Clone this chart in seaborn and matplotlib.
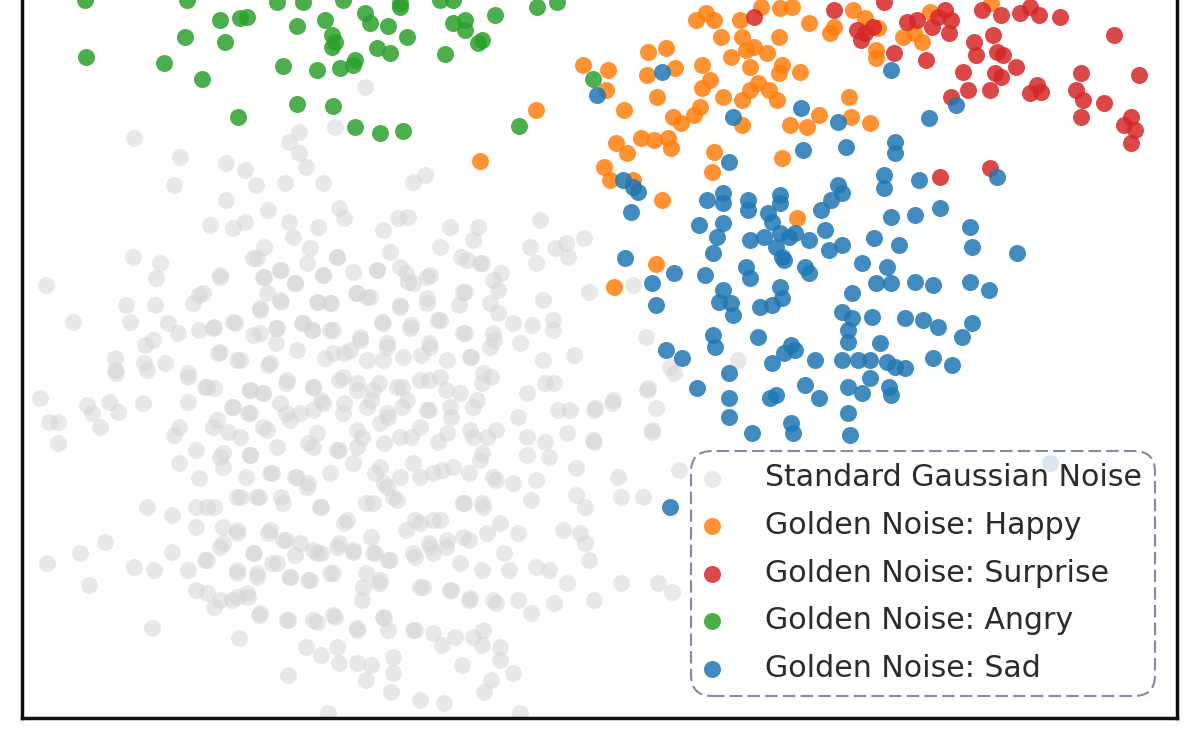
import matplotlib
matplotlib.use("Agg")
import matplotlib.pyplot as plt
import seaborn as sns

sns.set_theme(style="white")
plt.rcParams['font.family'] = ['DejaVu Sans']

# ---- embedding coordinates (screen-like units, y grows downward) ----
gauss_x = [365,134,299,289,299,335,180,226,245,306,174,256,285,323,413,425,226,268,339,344,210,233,245,289,383,398,408,450,478,540,
           293,318,264,310,440,473,530,555,566,584,133,160,253,337,390,461,482,536,568,46,156,220,264,281,323,377,406,427,501,589,
           295,356,367,465,498,543,413,126,155,193,199,260,281,318,331,400,427,459,130,73,168,178,199,214,235,276,302,312,333,383,
           411,438,465,498,513,532,553,553,494,145,153,218,260,276,360,387,429,520,115,144,165,237,268,325,344,383,421,471,543,574,
           115,188,633,646,738,670,648,613,595,570,652,593,
           116,147,188,205,214,250,263,286,313,339,357,379,402,429,446,482,491,527,545,554,647,656,652,674,40,49,58,58,87,92,
           100,109,118,143,188,179,174,217,228,232,248,263,286,313,321,344,371,388,402,429,451,473,496,518,558,594,612,527,545,567,
           594,196,223,250,277,308,339,362,384,411,438,473,482,527,549,179,199,223,246,272,295,308,330,353,375,384,420,442,469,496,
           513,536,576,618,679,147,172,196,214,241,259,281,321,344,366,393,415,433,464,482,500,518,531,576,585,621,643,196,237,268,
           286,313,339,371,406,429,446,469,563,580,585,105,80,47,172,205,223,254,272,295,321,353,375,388,415,433,460,482,504,509,
           536,549,589,134,154,188,237,89,257,290,308,333,366,379,420,451,469,496,518,531,554,567,594,621,658,672,196,214,232,248,
           259,288,317,335,357,384,388,415,362,152,239,306,321,337,339,357,371,393,393,442,455,473,482,500,500,462,288,366,391,420,
           444,484,491,513,328,520,
           220,257,263,280,295,307,323,337,353,377,400,408,430,467,480,493,203,267,280,260,317,330,357,370,400,427,463,490,213,233,
           253,277,303,312,330,360,382,410,440,463,493,220,240,270,297,333,350,367,387,403,430,447,470,490,207,250,263,287,313,343,
           357,373,397,420,440,460,483,233,250,280,300,323,343,367,387,407,427,450,477,213,240,267,290,317,357,380,400,420,447,470,
           487,
           220,250,270,297,307,313,337,357,380,387,400,413,433,453,480,493,207,237,257,283,320,347,373,397,420,440,463,483,223,237,
           270,283,300,317,337,353,373,390,413,430,447,463,487,220,253,207,237,257,277,290,310,330,363,380,423,450,470,493,207,220,
           237,247,260,287,313,333,357,383,413,433,483]
gauss_y = [87,138,132,142,153,127,157,163,170,167,185,185,183,183,182,175,200,210,208,218,225,228,222,222,230,218,217,227,227,220,
           237,227,247,248,247,240,247,248,243,238,257,263,258,257,252,257,263,263,257,285,278,277,277,270,275,270,273,277,273,292,
           283,293,297,292,290,300,283,305,305,303,295,308,302,302,303,305,298,305,322,322,323,333,330,327,323,328,323,330,330,323,
           325,320,333,313,323,325,320,330,340,345,340,353,333,343,340,343,343,343,358,363,363,360,365,358,353,360,355,357,360,355,
           370,373,285,337,360,367,388,400,408,410,430,440,
           373,370,377,387,388,390,393,383,387,380,390,383,387,380,390,383,377,393,383,383,390,408,432,373,398,422,422,443,405,413,
           427,402,412,403,402,427,435,420,432,407,413,427,413,410,400,403,400,417,407,410,417,407,430,417,410,410,403,437,442,433,
           442,450,453,455,447,443,450,437,443,437,442,437,453,455,457,463,478,467,477,473,477,483,473,463,473,483,477,470,473,480,
           483,480,468,477,470,507,515,507,507,497,497,497,507,523,503,497,520,520,503,503,523,533,500,495,507,497,497,527,530,533,
           540,550,543,537,530,543,547,540,530,533,543,542,553,563,552,560,543,553,563,555,553,552,553,560,557,553,563,570,553,570,
           567,570,560,567,570,570,570,585,577,577,580,573,573,583,587,590,600,603,600,613,603,583,600,583,583,592,590,607,600,597,
           615,620,622,617,628,618,630,630,600,628,638,647,655,647,663,663,665,657,673,645,637,637,645,647,660,665,675,680,692,700,
           703,692,680,673,713,713,
           275,258,277,270,283,263,275,257,272,270,267,282,275,260,263,280,293,293,300,310,302,303,293,297,307,303,292,303,328,322,
           335,328,323,330,330,337,322,328,320,333,333,352,360,363,350,353,350,360,347,357,347,360,357,347,387,390,393,380,387,377,
           383,390,387,380,377,393,373,407,413,403,413,403,413,407,413,400,410,407,400,427,437,430,420,433,430,423,437,427,433,430,
           437,
           457,455,473,477,487,447,450,447,467,487,477,463,473,467,460,477,507,497,497,503,507,520,503,500,523,520,503,507,527,533,
           530,540,543,553,547,550,553,560,553,547,540,537,533,547,553,560,573,573,563,577,580,573,587,580,587,590,598,600,593,600,
           597,593,613,620,620,615,630,617,630,633,630]

happy_x = [583,608,606,624,647,648,666,675,657,696,706,714,702,710,702,700,694,673,681,721,723,731,740,742,746,754,750,758,750,742,
           769,777,779,767,761,780,792,782,779,800,809,830,834,853,865,878,876,876,849,851,870,819,807,790,742,903,914,922,930,991,
           616,627,641,654,668,671,714,712,782,604,610,633,662,536,480,797,656,614]
happy_y = [65,70,90,110,75,52,48,68,97,20,13,20,65,80,88,107,115,117,123,37,97,57,20,37,50,47,67,83,90,100,
           90,100,37,53,7,8,7,65,73,72,23,33,27,10,18,28,50,58,97,117,123,115,127,125,125,37,33,42,12,3,
           143,153,138,140,138,148,152,172,158,167,180,180,200,110,161,218,264,287]

surprise_x = [754,834,884,857,865,861,873,894,907,917,926,932,938,945,951,949,982,1001,1020,1030,1039,1060,1114,974,976,993,997,1003,1016,963,
              995,1001,968,990,951,1030,1037,1041,1081,1076,1083,1081,1104,1139,1124,1131,1135,1131,940,990]
surprise_y = [17,10,2,30,33,40,27,53,22,20,60,27,17,10,20,33,10,15,13,7,15,17,35,42,55,35,52,55,67,72,
              73,77,90,90,97,93,85,92,73,90,100,117,103,75,125,117,130,143,177,168]

angry_x = [85,187,277,303,343,400,440,453,537,557,220,240,247,297,325,365,370,388,400,453,465,465,495,185,225,332,335,332,407,377,
           390,445,482,478,86,164,202,283,317,340,353,355,297,333,238,355,380,403,519,593]
angry_y = [0,0,2,2,0,3,0,0,7,2,20,18,17,26,20,13,23,26,7,23,20,30,15,37,42,35,42,47,37,48,
           53,54,40,43,57,63,79,66,70,68,65,60,104,106,117,127,133,131,126,79]

sad_x = [662,597,733,801,838,891,929,956,803,846,895,895,729,623,633,638,631,884,884,919,997,707,723,723,748,748,780,780,838,842,
         831,821,891,915,940,699,723,768,772,717,750,764,780,789,795,809,825,842,829,776,782,874,899,970,972,1017,625,713,746,750,
         784,805,809,862,887,891,876,915,933,970,989,674,652,705,723,719,731,733,780,782,760,772,656,852,842,852,848,848,872,905,
         923,938,972,962,758,713,715,666,682,791,795,784,772,815,842,858,870,887,895,905,880,933,952,729,697,729,729,770,776,805,
         819,848,862,870,889,891,848,791,793,752,850,670,1050]
sad_y = [72,95,117,108,122,70,118,105,150,147,142,153,162,180,187,192,212,175,188,180,177,200,193,203,200,210,195,203,185,193,
         200,210,217,215,208,225,223,213,222,237,240,237,233,237,233,240,230,245,250,247,257,238,245,227,247,253,258,253,267,278,
         260,267,273,263,267,283,283,282,285,282,290,273,283,275,290,302,303,315,287,298,307,305,305,293,312,318,330,342,317,318,
         320,327,323,337,337,335,347,350,358,345,350,353,363,360,360,360,360,362,367,368,343,358,365,373,388,398,417,398,395,385,
         398,387,393,378,387,395,413,423,433,433,435,507,463]

labels = ["Standard Gaussian Noise", "Golden Noise: Happy", "Golden Noise: Surprise",
          "Golden Noise: Angry", "Golden Noise: Sad"]
colors = ["#d3d3d3", "#ff7f0e", "#d62728", "#2ca02c", "#1f77b4"]
alphas = [0.5, 0.85, 0.85, 0.85, 0.85]
series = [(gauss_x, gauss_y), (happy_x, happy_y), (surprise_x, surprise_y),
          (angry_x, angry_y), (sad_x, sad_y)]

fig = plt.figure(figsize=(12, 7.53), dpi=100)
ax = fig.add_axes([22 / 1200, 35 / 753, 1155 / 1200, 1.0])

for (xs, ys), lab, col, a in zip(series, labels, colors, alphas):
    sns.scatterplot(x=xs, y=ys, color=col, alpha=a, s=150, linewidth=0,
                    ax=ax, label=lab, legend=False)

ax.set_xlim(22, 1177)
ax.set_ylim(718, 718 - 753)
ax.set_xticks([])
ax.set_yticks([])
ax.set_xlabel("")
ax.set_ylabel("")
for sp in ax.spines.values():
    sp.set_visible(True)
    sp.set_color("#111111")
    sp.set_linewidth(2.5)

leg = ax.legend(loc="lower right", fontsize=21.6, frameon=True, fancybox=True,
                framealpha=0.8, edgecolor="#5f7090", handlelength=0.55,
                handletextpad=1.5, borderaxespad=0.75, borderpad=0.42,
                labelspacing=0.62)
frame = leg.get_frame()
frame.set_boxstyle("round", pad=0, rounding_size=0.7)
frame.set_linestyle((0, (6, 2.5)))
frame.set_linewidth(1.5)
for t in leg.get_texts():
    t.set_color("#2b2b2b")

fig.savefig("out.png", dpi=100)
